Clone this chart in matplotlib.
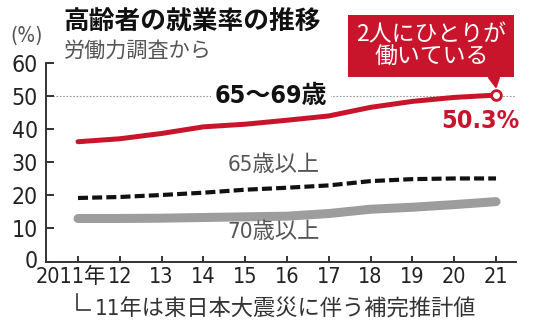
import matplotlib
matplotlib.use("Agg")
import matplotlib.pyplot as plt
from matplotlib import font_manager as fm
from matplotlib.lines import Line2D
from matplotlib.patches import Polygon
from matplotlib.transforms import ScaledTranslation

years = [2011, 2012, 2013, 2014, 2015, 2016, 2017, 2018, 2019, 2020, 2021]
xtick_labels = ["2011年", "12", "13", "14", "15", "16", "17", "18", "19", "20", "21"]
rate_65_69 = [36.2, 37.1, 38.7, 40.7, 41.5, 42.7, 44.0, 46.6, 48.4, 49.6, 50.3]
rate_65_plus = [19.2, 19.5, 20.1, 20.8, 21.7, 22.3, 23.0, 24.3, 24.9, 25.1, 25.1]
rate_70_plus = [13.0, 13.0, 13.1, 13.3, 13.5, 13.7, 14.5, 15.8, 16.4, 17.2, 18.1]
yticks = [0, 10, 20, 30, 40, 50, 60]

CJK = "Noto Sans CJK JP"
flist = fm.fontManager.ttflist
names = {f.name for f in flist}
num_stretch = "normal"
if "Liberation Sans Narrow" in names:
    NUM = "Liberation Sans Narrow"
    xt_size, yt_size = 17, 17
elif any(f.name == "DejaVu Sans" and str(f.stretch) in ("condensed", "semi-condensed", "extra-condensed")
         for f in flist):
    NUM = "DejaVu Sans"
    num_stretch = "condensed"
    xt_size, yt_size = 15.5, 16.5
else:
    NUM = "Liberation Sans"
    xt_size, yt_size = 15, 16.5
num_family = [NUM, CJK]

RED = "#c8152b"
GRAY_TXT = "#555555"

W, H = 538, 329
fig = plt.figure(figsize=(W / 100, H / 100), dpi=100)
ax = fig.add_axes([46 / W, (H - 261.5) / H, 470 / W, 198.5 / H])
ax.set_xlim(2010.234, 2021.478)
ax.set_ylim(0, 60)

for s in ["top", "right"]:
    ax.spines[s].set_visible(False)
for s in ["left", "bottom"]:
    ax.spines[s].set_linewidth(1.4)
    ax.spines[s].set_color("#333333")

ax.set_yticks(yticks)
ax.set_yticklabels([str(v) for v in yticks], family=num_family, fontsize=yt_size,
                   color="#222222", fontstretch=num_stretch)
ax.set_xticks(years)
ax.set_xticklabels(xtick_labels, family=num_family, fontsize=xt_size, color="#222222",
                   fontstretch=num_stretch)
ax.tick_params(axis="y", direction="in", length=6, width=1.4, color="#333333", pad=6)
ax.tick_params(axis="x", direction="in", length=4, width=1.4, color="#333333", pad=4)
first = ax.get_xticklabels()[0]
first.set_transform(first.get_transform() + ScaledTranslation(-7 / 100, 0, fig.dpi_scale_trans))
zero = ax.get_yticklabels()[0]
zero.set_transform(zero.get_transform() + ScaledTranslation(0, 3 / 100, fig.dpi_scale_trans))

# 50% reference dotted line
ax.axhline(50, color="#999999", lw=0.8, ls=(0, (1.5, 1.5)), zorder=1)

ax.plot(years, rate_70_plus, color="#9d9d9d", lw=6.5, solid_capstyle="round", zorder=2)
ax.plot(years, rate_65_plus, color="#111111", lw=3.0, ls=(0, (2.4, 1.0)), zorder=3)
ax.plot(years, rate_65_69, color=RED, lw=3.6, solid_capstyle="round", zorder=4)
ax.plot([years[-1]], [rate_65_69[-1]], marker="o", ms=7, mfc="white", mec=RED, mew=2, zorder=6,
        clip_on=False)

# labels
lab_fam = [NUM, CJK]
ax.text(2015.62, 50.0, "65〜69歳", family=lab_fam, fontsize=18, fontweight="bold",
        color="#111111", ha="center", va="center", zorder=5, fontstretch=num_stretch,
        bbox=dict(boxstyle="square,pad=0.15", fc="white", ec="none"))
ax.text(2015.67, 29.3, "65歳以上", family=lab_fam, fontsize=16, color=GRAY_TXT,
        ha="center", va="center", fontstretch=num_stretch)
ax.text(2015.67, 8.9, "70歳以上", family=lab_fam, fontsize=16, color=GRAY_TXT,
        ha="center", va="center", fontstretch=num_stretch)
ax.text(2020.62, 42.5, f"{rate_65_69[-1]}%", family=lab_fam, fontsize=18,
        fontweight="bold", color=RED, ha="center", va="center", fontstretch=num_stretch)

# callout box
ax.text(2019.45, 65.1, "2人にひとりが\n働いている", family=[CJK], fontsize=16.5, color="white",
        ha="center", va="center", linespacing=1.0, clip_on=False, zorder=7,
        bbox=dict(boxstyle="square,pad=0.36", fc=RED, ec="none"))
tri = Polygon([(2020.82, 55.6), (2021.08, 55.6), (2021.0, 52.6)], closed=True, fc=RED, ec=RED,
              lw=1, clip_on=False, zorder=6)
ax.add_patch(tri)

# title texts
fig.text(63 / W, 1 - 22 / H, "高齢者の就業率の推移", family=[CJK], fontsize=18.5,
         fontweight="bold", color="#111111", ha="left", va="center")
fig.text(64 / W, 1 - 51 / H, "労働力調査から", family=[CJK], fontsize=15.2, color=GRAY_TXT,
         ha="left", va="center")
fig.text(10 / W, 1 - 36 / H, "(%)", family=[NUM, CJK], fontsize=15, color=GRAY_TXT,
         ha="left", va="center", fontstretch=num_stretch)

# footnote
fig.text(95 / W, 1 - 309 / H, "11年は東日本大震災に伴う補完推計値", family=[NUM, CJK],
         fontsize=16, color="#333333", ha="left", va="center", fontstretch=num_stretch)
fig.add_artist(Line2D([77 / W, 77 / W, 90 / W], [1 - 294 / H, 1 - 310 / H, 1 - 310 / H],
                      transform=fig.transFigure, color="#333333", lw=1.2))

fig.savefig("out.png", dpi=100)
